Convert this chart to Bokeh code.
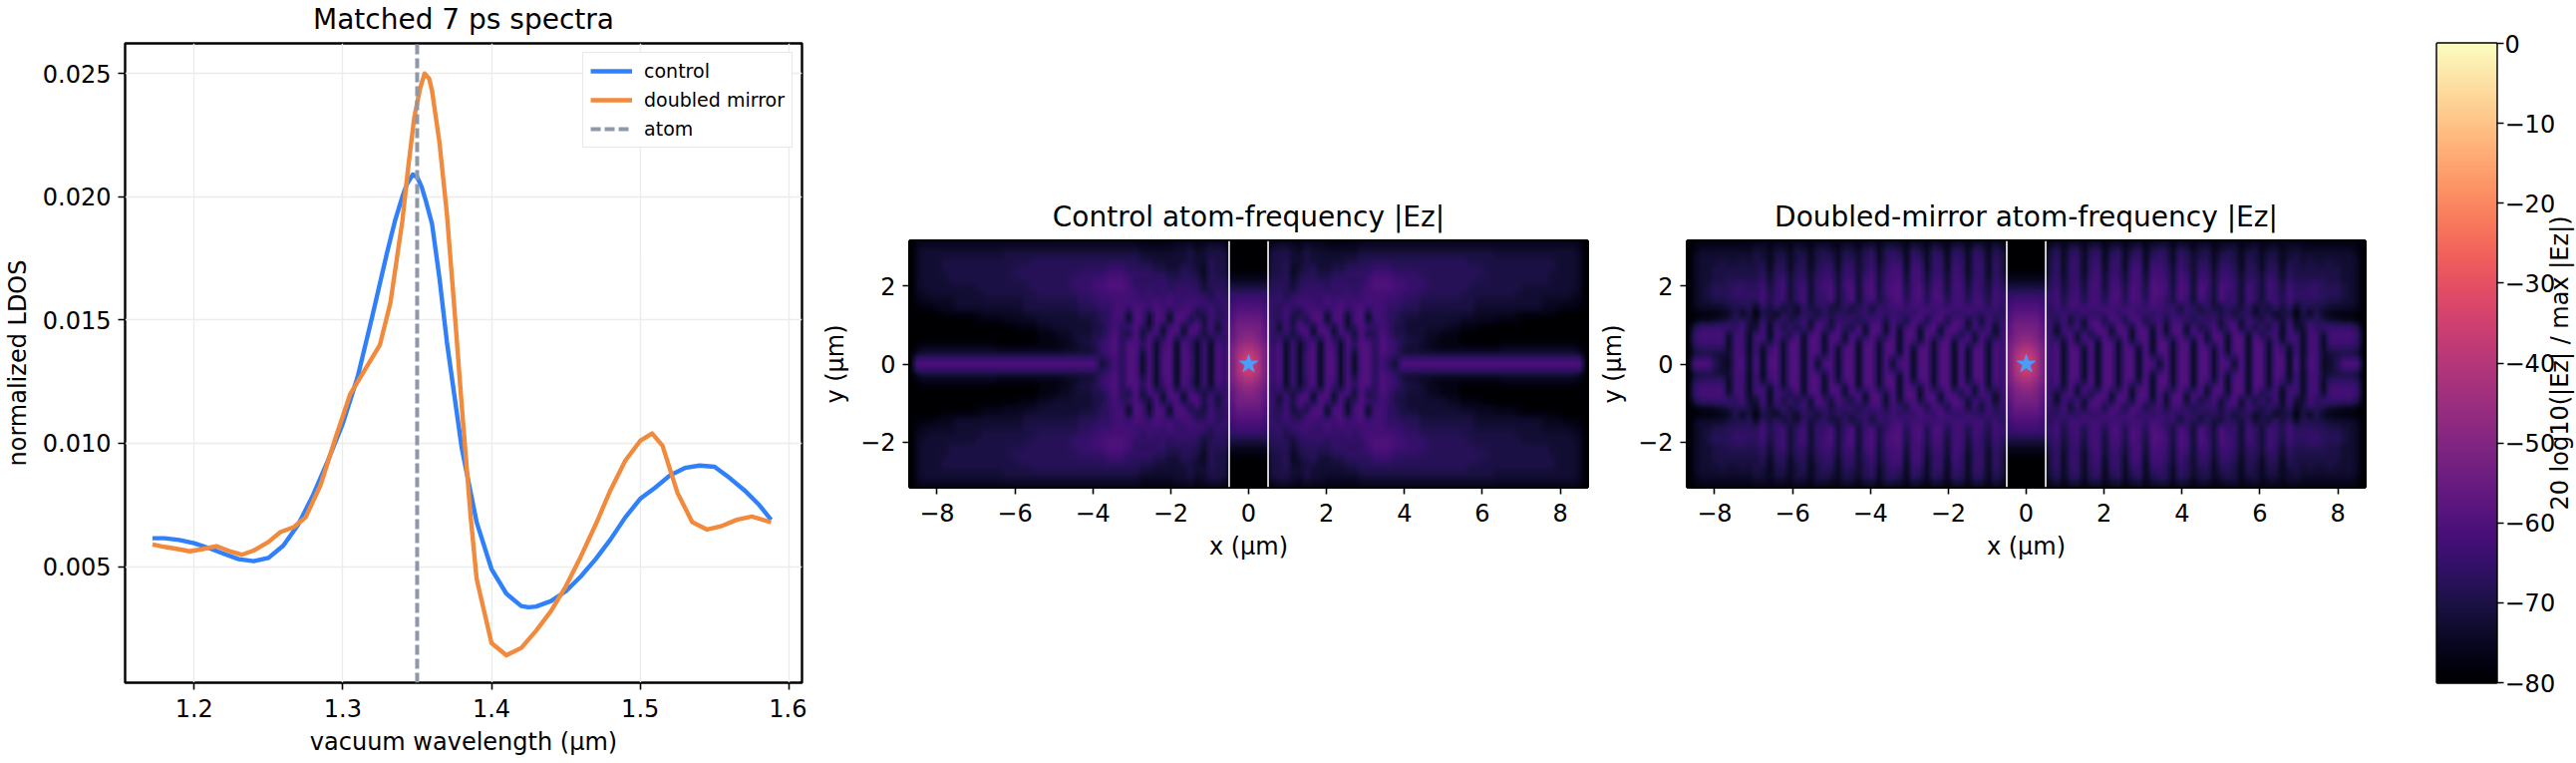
import numpy as np
from bokeh.embed import file_html
from bokeh.resources import INLINE
from bokeh.layouts import row
from bokeh.models import Range1d, FixedTicker, LinearColorMapper, Legend, LegendItem
from bokeh.palettes import Magma256
from bokeh.plotting import figure

FONT = "DejaVu Sans"

# ---- spectra
CONTROL_WL = [1.172,1.18,1.19,1.20,1.21,1.22,1.23,1.24,1.25,1.26,1.27,1.28,1.29,1.30,1.31,1.32,1.33,1.335,1.34,1.343,1.347,1.35,1.353,1.356,1.36,1.365,1.37,1.38,1.39,1.40,1.41,1.42,1.425,1.43,1.44,1.45,1.46,1.47,1.48,1.49,1.50,1.51,1.52,1.53,1.54,1.55,1.56,1.57,1.58,1.588]
CONTROL_LDOS = [.00615,.00615,.00608,.00595,.00575,.00552,.0053,.00522,.00535,.00585,.0067,.0079,.0093,.0108,.0127,.0152,.0178,.0190,.0200,.0205,.0209,.0208,.0204,.0198,.0189,.0167,.0141,.0098,.0068,.0049,.0039,.0034,.00335,.00338,.0036,.0040,.0046,.0053,.0061,.0070,.00775,.0082,.0087,.0090,.0091,.00905,.0086,.0081,.0075,.0069]
MIRROR_WL = [1.172,1.18,1.19,1.197,1.205,1.215,1.225,1.232,1.24,1.25,1.258,1.267,1.275,1.285,1.295,1.305,1.315,1.325,1.332,1.34,1.344,1.348,1.352,1.355,1.358,1.36,1.365,1.37,1.375,1.38,1.386,1.39,1.40,1.41,1.42,1.43,1.44,1.45,1.46,1.47,1.48,1.49,1.50,1.508,1.515,1.525,1.535,1.545,1.555,1.565,1.575,1.588]
MIRROR_LDOS = [.0059,.0058,.0057,.00562,.0057,.00583,.0056,.00548,.00565,.0060,.0064,.0066,.0070,.0083,.0102,.0120,.0130,.0140,.0157,.0190,.0212,.0232,.0244,.0250,.0248,.0243,.0222,.0193,.0155,.0115,.0070,.0045,.0019,.0014,.0017,.0024,.0032,.0042,.0054,.0067,.0081,.0093,.0101,.0104,.0099,.0080,.0068,.0065,.00665,.0069,.00703,.0068]
ATOM_WL = 1.35

WL_TICKS = [1.2,1.3,1.4,1.5,1.6]
LDOS_TICKS = [.005,.010,.015,.020,.025]
X_TICKS = [-8,-6,-4,-2,0,2,4,6,8]
Y_TICKS = [-2,0,2]
DB_TICKS = [-80,-70,-60,-50,-40,-30,-20,-10,0]
GUIDE_EDGES = [-0.5,0.5]
DB_LOW, DB_HIGH = -80.0, 0.0
LEVEL_DB = 2.5   # one level of the grids below, in dB above DB_LOW

# ---- |Ez| maps: one quadrant (x>=0, y>=0), read by eye; top row first, base-36 levels
CONTROL_MAP = [
"0001111111 1111111111 1111111111 1111111111 1111111110",
"0003443243 3222223333 3333333333 3333333333 3333333320",
"0004443343 3333334444 4444444444 4444443333 3333333320",
"0004453343 3333445555 5555555555 5544444444 4444433320",
"0004452345 3344555566 6555555555 5555444444 4444433320",
"1114452455 4455666677 7666655555 5555544444 4444333320",
"2225553555 5566555788 8776665555 5554444444 4444333320",
"4445553566 6565666788 8776665555 5544444444 3333333320",
"6665645666 6666757777 7766655555 5444444443 3333333220",
"7766657776 6867676777 6665544444 4443333333 3332222210",
"8876575677 6778778777 6655544444 4443333333 3332221110",
"9985575278 8278278277 5544433333 3332222221 1111100000",
"aa86572828 8288288277 6543333333 3222221111 0000000000",
"bb96275882 8828258857 6443333332 2111000000 0000000000",
"cb96572782 8828828258 6443332211 1000000000 0000000000",
"dca5727268 2872858858 7654432211 1000000000 0000000000",
"fdb6827268 2872858858 7643322111 1111111222 2222222210",
"hfb6827278 2882828858 7633333333 3333333333 3333333320",
"ifb6827278 2882828857 5388888888 8888888888 8888888880",
]
MIRROR_MAP = [
"0001111111 1111111111 1111111111 1111111111 1111111110",
"0003525525 5245245245 5254244234 4234233233 2222222210",
"0004525625 6256256256 5265345245 4244244234 3333333320",
"0004626626 6266266266 5265355255 4254254244 3433433320",
"0004626626 7266277277 6375366266 5255255254 4444443320",
"1114626626 7366377377 6376366366 5355365354 4444443320",
"2225636637 7377377387 7387377377 6366376365 5555443320",
"4445736737 7377487488 7387387387 6376376475 5665554320",
"6666746747 7478487488 7487386386 6376376476 6665554320",
"7766747747 7487487587 5386386386 6376376575 5555443320",
"8875757777 7767767677 6726526326 5362527362 5544333320",
"9985575575 5785785756 6656654655 2652450430 4051100000",
"aa86572728 8288288277 3776376637 7377376373 4755332210",
"bb96275828 8828828828 2882826827 8272827272 3757777750",
"cb96278282 8828828828 2882882882 8828287277 2772777760",
"dca6728288 2882828828 8288282882 8828827277 2772777760",
"fdb6828828 2882882828 8288288282 8828828727 2772666650",
"hfb6828828 2882882828 8288288282 8828828727 2773333320",
"ifb6828828 2882882882 8288288288 2828828828 2872358880",
]
BLUE, ORANGE, ATOM = "#2f80fa", "#f28a3e", "#8f98a8"
STAR = "#4a9dfa"

def style(p, tick=24):
    p.frame_align = False
    p.outline_line_color = "black"
    p.outline_line_width = 2.4
    for ax in p.xaxis + p.yaxis:
        ax.major_label_text_font = FONT
        ax.major_label_text_font_size = f"{tick}px"
        ax.major_label_text_color = "black"
        ax.major_label_standoff = 7
        ax.axis_label_text_font = FONT
        ax.axis_label_text_font_size = f"{tick}px"
        ax.axis_label_text_font_style = "normal"
        ax.axis_label_text_color = "black"
        ax.axis_label_standoff = 8
        ax.major_tick_in = 0
        ax.major_tick_out = 7
        ax.major_tick_line_width = 1.6
        ax.minor_tick_line_color = None
        ax.axis_line_color = None
    for ax in p.xaxis:
        ax.major_label_standoff = 9
    p.title.text_font = FONT
    p.title.text_font_size = "28px"
    p.title.text_font_style = "normal"
    p.title.align = "center"
    p.title.text_color = "black"
    p.title.text_line_height = 1.0
    p.title.standoff = 15

def minus(ticks):
    return {t: str(t).replace("-", "\u2212") for t in ticks}

# ---- spectra
WL_RANGE, LDOS_RANGE = (1.1536, 1.6088), (0.00029, 0.02622)
s = figure(width=808, height=773, output_backend="svg", toolbar_location=None,
           title="Matched 7 ps spectra",
           x_range=Range1d(*WL_RANGE), y_range=Range1d(*LDOS_RANGE),
           x_axis_label="vacuum wavelength (\u00b5m)", y_axis_label="normalized LDOS",
           frame_width=679, frame_height=641,
           min_border_left=124, min_border_top=51, min_border_right=5, min_border_bottom=81)
s.margin = (-8, 0, 0, 0)
style(s)
s.xaxis.ticker = FixedTicker(ticks=WL_TICKS)
s.yaxis.ticker = FixedTicker(ticks=LDOS_TICKS)
s.xaxis.major_label_overrides = {t: f"{t:.1f}" for t in WL_TICKS}
s.yaxis.major_label_overrides = {t: f"{t:.3f}" for t in LDOS_TICKS}
s.xgrid.ticker = FixedTicker(ticks=WL_TICKS)
s.ygrid.ticker = FixedTicker(ticks=LDOS_TICKS)
s.grid.grid_line_color = "#ececec"
s.grid.grid_line_width = 1.4
l1 = s.line(CONTROL_WL, CONTROL_LDOS, line_color=BLUE, line_width=4.4, line_join="round")
l2 = s.line(MIRROR_WL, MIRROR_LDOS, line_color=ORANGE, line_width=4.4, line_join="round")
l3 = s.line([ATOM_WL, ATOM_WL], list(LDOS_RANGE), line_color=ATOM, line_width=4, line_dash="10 4")
leg = Legend(items=[LegendItem(label="control", renderers=[l1]),
                    LegendItem(label="doubled mirror", renderers=[l2]),
                    LegendItem(label="atom", renderers=[l3])],
             location="top_right", label_text_font=FONT, label_text_font_size="19px",
             label_text_color="black",
             border_line_color="#d0d0d0", border_line_width=1.5, background_fill_alpha=0.9,
             glyph_width=42, glyph_height=20, label_height=20, spacing=7, padding=7, margin=9,
             label_standoff=12)
s.add_layout(leg, "center")

mapper = LinearColorMapper(palette=Magma256, low=DB_LOW, high=DB_HIGH)

def soften(a, axis, passes):
    for _ in range(passes):
        a = (np.roll(a, 1, axis) + 2 * a + np.roll(a, -1, axis)) / 4
    return a

def field(rows, zoom=6):
    q = np.array([[int(c, 36) * LEVEL_DB + DB_LOW for c in r.replace(" ", "")] for r in rows])
    top = np.hstack([q[:, ::-1], q])
    full = np.vstack([top, top[::-1]])
    # the grid is drawn with a soft display resampling, as the reference's image is smooth
    ny, nx = full.shape
    xi = np.linspace(0, nx - 1, (nx - 1) * zoom + 1)
    yi = np.linspace(0, ny - 1, (ny - 1) * zoom + 1)
    wide = np.array([np.interp(xi, np.arange(nx), r) for r in full])
    fine = np.array([np.interp(yi, np.arange(ny), c) for c in wide.T]).T
    return soften(soften(fine, 0, 24), 1, 2)

def panel(title, rows, width, left):
    p = figure(width=width, height=765, output_backend="svg", toolbar_location=None, title=title,
               x_range=Range1d(-8.70, 8.70), y_range=Range1d(-3.15, 3.15),
               x_axis_label="x (\u00b5m)", y_axis_label="y (\u00b5m)",
               frame_width=680, frame_height=247,
               min_border_left=left, min_border_top=241, min_border_right=5, min_border_bottom=277)
    style(p)
    p.grid.visible = False
    p.xaxis.ticker = FixedTicker(ticks=X_TICKS)
    p.yaxis.ticker = FixedTicker(ticks=Y_TICKS)
    p.xaxis.major_label_overrides = minus(X_TICKS)
    p.yaxis.major_label_overrides = minus(Y_TICKS)
    p.image(image=[field(rows)], x=-8.70, y=-3.15, dw=17.40, dh=6.30, color_mapper=mapper)
    p.segment(x0=GUIDE_EDGES, x1=GUIDE_EDGES, y0=[-3.15]*2, y1=[3.15]*2, line_color="#e4e4e4", line_width=1.8)
    p.scatter([0], [0], marker="star", size=19, fill_color=STAR, line_color=STAR)
    p.outline_line_width = 3
    return p

a = panel("Control atom-frequency |Ez|", CONTROL_MAP, 787, 103)
b = panel("Doubled-mirror atom-frequency |Ez|", MIRROR_MAP, 780, 95)

# ---- colour bar
c = figure(width=176, height=765, output_backend="svg", toolbar_location=None,
           x_range=Range1d(0, 1), y_range=Range1d(DB_LOW, DB_HIGH), y_axis_location="right",
           x_axis_type=None,
           frame_width=60, frame_height=641,
           min_border_left=67, min_border_top=43, min_border_right=49, min_border_bottom=81)
style(c)
c.grid.visible = False
c.yaxis.ticker = FixedTicker(ticks=DB_TICKS)
c.yaxis.major_label_overrides = minus(DB_TICKS)
c.yaxis.major_label_standoff = 1
c.image(image=[np.linspace(DB_LOW, DB_HIGH, 256).reshape(-1, 1)], x=0, y=DB_LOW, dw=1, dh=DB_HIGH-DB_LOW, color_mapper=mapper)

# the colour bar's title, reading upward, on a bare axis of its own beside the tick labels
t = figure(width=39, height=765, output_backend="svg", toolbar_location=None,
           x_range=Range1d(0, 1), y_range=Range1d(DB_LOW, DB_HIGH),
           x_axis_type=None, y_axis_label="20 log10(|Ez| / max |Ez|)",
           frame_width=1, frame_height=641,
           min_border_left=28, min_border_top=43, min_border_right=10, min_border_bottom=81,
           border_fill_color=None, background_fill_color=None)
t.margin = (0, 0, 0, -16)
style(t)
t.outline_line_color = None
t.grid.visible = False
t.yaxis.ticker = FixedTicker(ticks=[])
t.yaxis.major_tick_out = 0
t.yaxis.major_label_standoff = 0
t.yaxis.axis_label_standoff = 0

page = row(s, a, b, c, t, spacing=0)
open("out.html", "w").write(file_html(page, INLINE))
